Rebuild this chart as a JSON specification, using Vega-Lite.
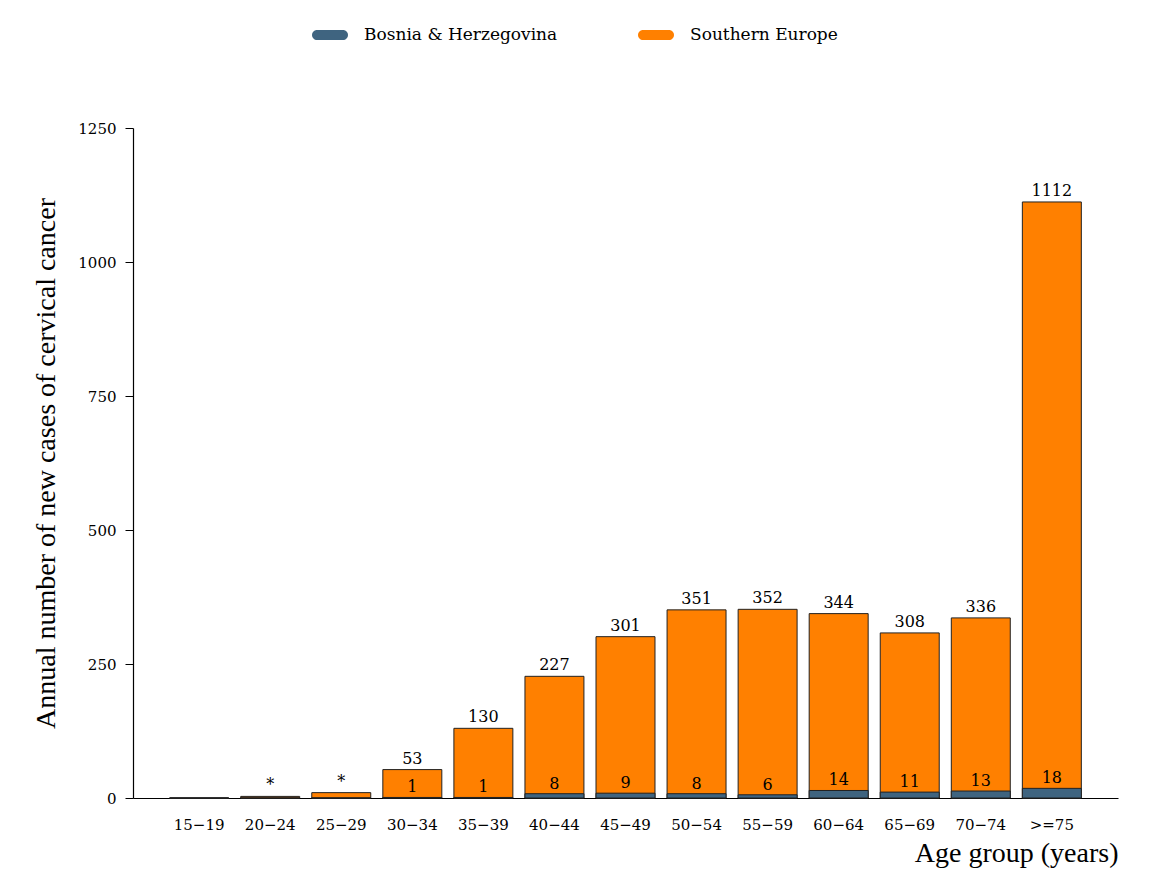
{
  "$schema": "https://vega.github.io/schema/vega-lite/v6.json",
  "autosize": {"type": "none"},
  "width": 985,
  "height": 670,
  "padding": {"left": 133, "top": 128, "right": 50, "bottom": 92},
  "background": "white",
  "config": {
    "view": {"stroke": null},
    "font": "DejaVu Serif"
  },
  "data": {
    "values": [
      {"age": "15−19", "country": "Southern Europe", "cases": 0, "label": ""},
      {"age": "20−24", "country": "Southern Europe", "cases": 3, "label": "*"},
      {"age": "25−29", "country": "Southern Europe", "cases": 10, "label": "*"},
      {"age": "30−34", "country": "Southern Europe", "cases": 53, "label": "53"},
      {"age": "35−39", "country": "Southern Europe", "cases": 130, "label": "130"},
      {"age": "40−44", "country": "Southern Europe", "cases": 227, "label": "227"},
      {"age": "45−49", "country": "Southern Europe", "cases": 301, "label": "301"},
      {"age": "50−54", "country": "Southern Europe", "cases": 351, "label": "351"},
      {"age": "55−59", "country": "Southern Europe", "cases": 352, "label": "352"},
      {"age": "60−64", "country": "Southern Europe", "cases": 344, "label": "344"},
      {"age": "65−69", "country": "Southern Europe", "cases": 308, "label": "308"},
      {"age": "70−74", "country": "Southern Europe", "cases": 336, "label": "336"},
      {"age": ">=75", "country": "Southern Europe", "cases": 1112, "label": "1112"},
      {"age": "15−19", "country": "Bosnia & Herzegovina", "cases": 0, "label": ""},
      {"age": "20−24", "country": "Bosnia & Herzegovina", "cases": 0, "label": ""},
      {"age": "25−29", "country": "Bosnia & Herzegovina", "cases": 0, "label": ""},
      {"age": "30−34", "country": "Bosnia & Herzegovina", "cases": 1, "label": "1"},
      {"age": "35−39", "country": "Bosnia & Herzegovina", "cases": 1, "label": "1"},
      {"age": "40−44", "country": "Bosnia & Herzegovina", "cases": 8, "label": "8"},
      {"age": "45−49", "country": "Bosnia & Herzegovina", "cases": 9, "label": "9"},
      {"age": "50−54", "country": "Bosnia & Herzegovina", "cases": 8, "label": "8"},
      {"age": "55−59", "country": "Bosnia & Herzegovina", "cases": 6, "label": "6"},
      {"age": "60−64", "country": "Bosnia & Herzegovina", "cases": 14, "label": "14"},
      {"age": "65−69", "country": "Bosnia & Herzegovina", "cases": 11, "label": "11"},
      {"age": "70−74", "country": "Bosnia & Herzegovina", "cases": 13, "label": "13"},
      {"age": ">=75", "country": "Bosnia & Herzegovina", "cases": 18, "label": "18"}
    ]
  },
  "encoding": {
    "x": {
      "field": "age",
      "type": "nominal",
      "sort": null,
      "scale": {"paddingInner": 0.17, "paddingOuter": 0.516},
      "axis": {
        "title": "Age group (years)",
        "titleFont": "Liberation Serif",
        "titleFontSize": 28,
        "titleFontWeight": "normal",
        "titleColor": "#000",
        "titleAlign": "right",
        "titleAnchor": null,
        "titleBaseline": "alphabetic",
        "titleX": 985,
        "titleY": 63,
        "labelAngle": 0,
        "labelFont": "DejaVu Serif",
        "labelFontSize": 15,
        "labelColor": "#000",
        "labelPadding": 19,
        "ticks": false,
        "domainColor": "#000",
        "domainWidth": 1.2
      }
    },
    "y": {
      "field": "cases",
      "type": "quantitative",
      "scale": {"domain": [0, 1250], "nice": false},
      "axis": {
        "values": [0, 250, 500, 750, 1000, 1250],
        "format": "d",
        "title": "Annual number of new cases of cervical cancer",
        "titleFont": "Liberation Serif",
        "titleFontSize": 28,
        "titleFontWeight": "normal",
        "titleColor": "#000",
        "titleAngle": 270,
        "titleAlign": "center",
        "titleBaseline": "middle",
        "titleAnchor": null,
        "titleX": -87,
        "titleY": 335,
        "labelFont": "DejaVu Serif",
        "labelFontSize": 15,
        "labelColor": "#000",
        "labelPadding": 9,
        "tickSize": 8,
        "tickColor": "#000",
        "domainColor": "#000",
        "domainWidth": 1.2,
        "grid": false
      }
    }
  },
  "layer": [
    {
      "transform": [{"filter": "datum.country === 'Southern Europe'"}],
      "mark": {"type": "bar", "stroke": "#222", "strokeWidth": 1},
      "encoding": {
        "color": {
          "field": "country",
          "type": "nominal",
          "scale": {"domain": ["Bosnia & Herzegovina", "Southern Europe"], "range": ["#3f6480", "#ff8000"]},
          "legend": {
            "title": null,
            "orient": "none",
            "direction": "horizontal",
            "legendX": 179,
            "legendY": -111,
            "columns": 2,
            "columnPadding": 80,
            "padding": 0,
            "symbolType": "M-0.72,-0.28L0.72,-0.28A0.28,0.28 0 0 1 0.72,0.28L-0.72,0.28A0.28,0.28 0 0 1 -0.72,-0.28Z",
            "symbolSize": 1296,
            "symbolStrokeWidth": 0,
            "symbolOpacity": 1,
            "labelFont": "DejaVu Serif",
            "labelFontSize": 17,
            "labelColor": "#000",
            "labelOffset": 16,
            "labelLimit": 400
          }
        }
      }
    },
    {
      "transform": [{"filter": "datum.country === 'Bosnia & Herzegovina'"}],
      "mark": {"type": "bar", "stroke": "#222", "strokeWidth": 1},
      "encoding": {
        "color": {"field": "country", "type": "nominal"}
      }
    },
    {
      "transform": [{"filter": "datum.country === 'Southern Europe'"}],
      "mark": {"type": "text", "baseline": "alphabetic", "dy": -6, "fontSize": 16, "font": "DejaVu Serif", "color": "#000"},
      "encoding": {"text": {"field": "label"}}
    },
    {
      "transform": [{"filter": "datum.country === 'Bosnia & Herzegovina'"}],
      "mark": {"type": "text", "baseline": "alphabetic", "dy": -5, "fontSize": 16, "font": "DejaVu Serif", "color": "#000"},
      "encoding": {"text": {"field": "label"}}
    }
  ]
}
